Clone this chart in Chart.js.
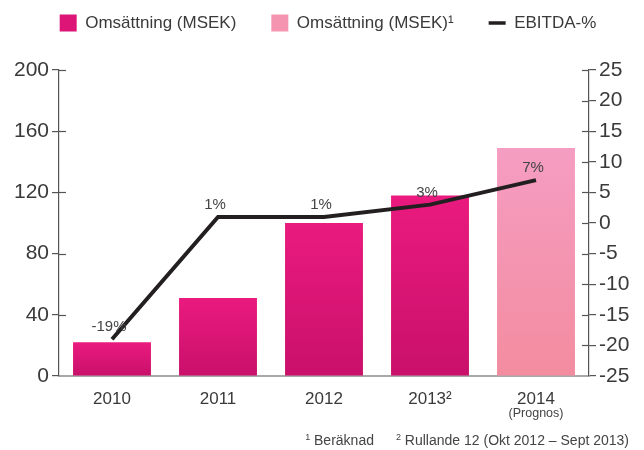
<!DOCTYPE html>
<html><head><meta charset="utf-8">
<script src="https://cdn.jsdelivr.net/npm/chart.js@4.4.0/dist/chart.umd.min.js"></script>
<style>html,body{margin:0;padding:0;background:#fff}#wrap{width:644px;height:450px;position:relative}</style>
</head><body><div id="wrap"><canvas id="c" width="644" height="450"></canvas></div>
<script>
const categories = ['2010', '2011', '2012', '2013²', '2014'];
const subLabels = ['', '', '', '', '(Prognos)'];
const revenueActual = [22, 51, 100, 118, null];
const revenueEstimated = [null, null, null, null, 149];
const ebitdaPct = [-19, 1, 1, 3, 7];
const ebitdaLabels = ['-19%', '1%', '1%', '3%', '7%'];
const seriesNames = ['Omsättning (MSEK)', 'Omsättning (MSEK)¹', 'EBITDA-%'];
const footnotes = [['1', ' Beräknad'], ['2', ' Rullande 12 (Okt 2012 – Sept 2013)']];

const FONT = "'Liberation Sans', Arial, sans-serif";
const TXT = '#3a3a3a';

function barGradient(top, bottom) {
  return function (ctx) {
    const chart = ctx.chart;
    if (!chart.chartArea || ctx.type !== 'data' || ctx.raw == null) return top;
    const ys = chart.scales.y;
    const y0 = ys.getPixelForValue(ctx.raw);
    const y1 = ys.getPixelForValue(0);
    const g = chart.ctx.createLinearGradient(0, y0, 0, y1);
    g.addColorStop(0, top);
    g.addColorStop(1, bottom);
    return g;
  };
}

const innerTicks = {
  id: 'innerTicks',
  afterDraw(chart) {
    const c = chart.ctx, a = chart.chartArea;
    c.save();
    c.strokeStyle = '#555';
    c.lineWidth = 1.2;
    [['y', a.left, 7], ['y1', a.right, -7]].forEach(([id, x, d]) => {
      const s = chart.scales[id];
      s.ticks.forEach((t, i) => {
        if (i === 0) return;
        const py = Math.round(s.getPixelForValue(t.value)) + 0.5;
        c.beginPath(); c.moveTo(x, py); c.lineTo(x + d, py); c.stroke();
      });
    });
    c.restore();
  }
};

const pointLabels = {
  id: 'pointLabels',
  afterDatasetsDraw(chart) {
    const c = chart.ctx;
    const meta = chart.getDatasetMeta(2);
    c.save();
    c.font = '15px ' + FONT;
    c.fillStyle = '#444';
    c.textAlign = 'center';
    c.textBaseline = 'middle';
    meta.data.forEach((p, i) => {
      c.fillText(ebitdaLabels[i], p.x - 3, p.y - 12);
    });
    c.restore();
  }
};

const extraText = {
  id: 'extraText',
  afterDraw(chart) {
    const c = chart.ctx;
    const xs = chart.scales.x;
    c.save();
    c.fillStyle = '#444';
    c.textAlign = 'center';
    c.textBaseline = 'middle';
    c.font = '12.5px ' + FONT;
    subLabels.forEach((t, i) => {
      if (t) c.fillText(t, xs.getPixelForTick(i), 414);
    });
    c.textAlign = 'left';
    c.textBaseline = 'alphabetic';
    const big = '14px ' + FONT, small = '9px ' + FONT;
    const gap = 22;
    let total = 0;
    footnotes.forEach(([s, t], i) => {
      c.font = small; total += c.measureText(s).width;
      c.font = big; total += c.measureText(t).width;
      if (i > 0) total += gap;
    });
    let x = 629 - total;
    const base = 445;
    footnotes.forEach(([s, t], i) => {
      if (i > 0) x += gap;
      c.font = small; c.fillText(s, x, base - 5); x += c.measureText(s).width;
      c.font = big; c.fillText(t, x, base); x += c.measureText(t).width;
    });
    c.restore();
  }
};

const legendFix = {
  id: 'legendFix',
  beforeInit(chart) {
    const lg = chart.legend;
    const f = lg.fit;
    lg.fit = function () { f.call(this); this.height = 70; };
  },
  beforeDraw(chart) {
    chart.legend.top = -20.5;
    chart.legend.left = 6;
    chart.legend.right = chart.width + 6;
  }
};

new Chart(document.getElementById('c'), {
  data: {
    labels: categories,
    datasets: [
      {
        type: 'bar', label: seriesNames[0], data: revenueActual, yAxisID: 'y',
        backgroundColor: barGradient('#EA1A7F', '#C9106A'), legendColor: '#DD1576',
        grouped: false, barPercentage: 0.735, categoryPercentage: 1, order: 1
      },
      {
        type: 'bar', label: seriesNames[1], data: revenueEstimated, yAxisID: 'y',
        backgroundColor: barGradient('#F59DC2', '#F38C9F'), legendColor: '#F494B1',
        grouped: false, barPercentage: 0.735, categoryPercentage: 1, order: 1
      },
      {
        type: 'line', label: seriesNames[2], data: ebitdaPct, yAxisID: 'y1',
        borderColor: '#231F20', borderWidth: 4, pointRadius: 0, tension: 0,
        fill: false, order: 0, legendColor: '#231F20'
      }
    ]
  },
  options: {
    responsive: false, animation: false, devicePixelRatio: 1,
    layout: { padding: 0 },
    plugins: {
      tooltip: { enabled: false },
      legend: {
        position: 'top', align: 'center',
        labels: {
          usePointStyle: true, pointStyleWidth: 17, boxHeight: 17, padding: 35,
          font: { family: FONT, size: 17 }, color: TXT,
          generateLabels: (chart) => chart.data.datasets.map((ds, i) => ({
            text: ds.label,
            fillStyle: ds.legendColor,
            strokeStyle: ds.legendColor,
            lineWidth: ds.type === 'line' ? 3.5 : 0,
            pointStyle: ds.type === 'line' ? 'line' : 'rect',
            hidden: false, datasetIndex: i, fontColor: TXT
          }))
        }
      }
    },
    scales: {
      x: {
        offset: true,
        grid: { display: true, drawOnChartArea: false, drawTicks: false },
        border: { display: true, color: '#a8a8a8', width: 2 },
        ticks: { font: { family: FONT, size: 17 }, color: TXT, padding: 13 },
        afterFit: (s) => { s.height = 74; }
      },
      y: {
        position: 'left', min: 0, max: 200,
        ticks: { stepSize: 40, font: { family: FONT, size: 21 }, color: TXT, padding: 3 },
        grid: { drawOnChartArea: false, drawTicks: true, tickLength: 7, color: '#555', lineWidth: 1.2 },
        border: { display: true, color: '#555', width: 1.2 },
        afterFit: (s) => { s.width = 59; }
      },
      y1: {
        position: 'right', min: -25, max: 25,
        ticks: { stepSize: 5, font: { family: FONT, size: 21 }, color: TXT, padding: 3 },
        grid: { drawOnChartArea: false, drawTicks: true, tickLength: 7, color: '#555', lineWidth: 1.2 },
        border: { display: true, color: '#555', width: 1.2 },
        afterFit: (s) => { s.width = 55; }
      }
    }
  },
  plugins: [legendFix, innerTicks, pointLabels, extraText]
});
</script>
</body></html>
